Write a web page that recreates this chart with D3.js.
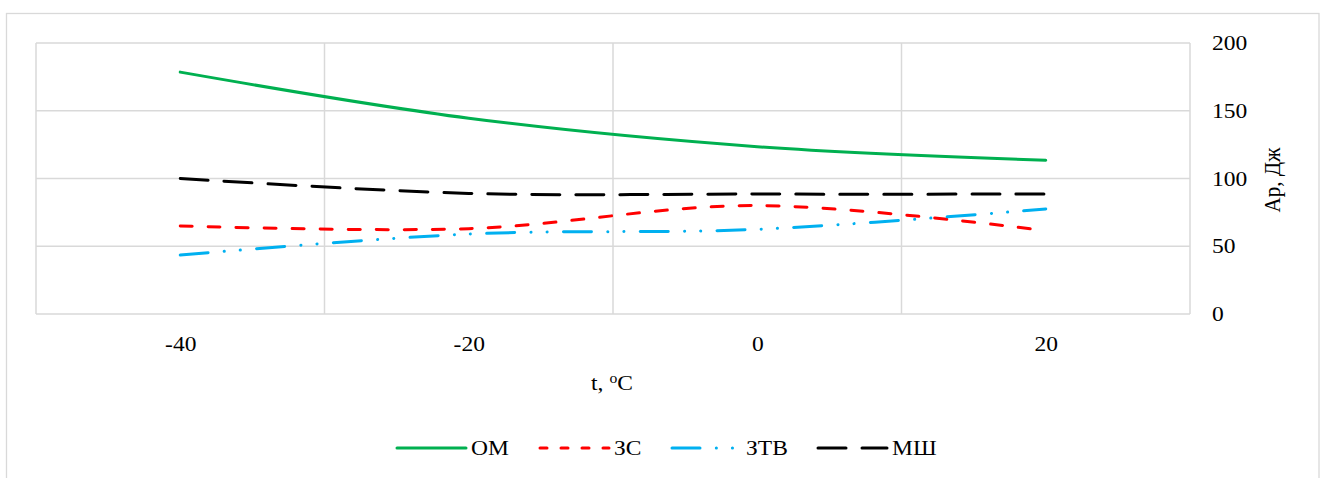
<!DOCTYPE html>
<html>
<head>
<meta charset="utf-8">
<script src="https://cdn.jsdelivr.net/npm/d3@7"></script>
<style>
  body { margin: 0; background: #fff; }
  svg text { font-family: "Liberation Serif", "Times New Roman", serif; fill: #000; }
</style>
</head>
<body>
<div id="chart"></div>
<script>
// Данные графика
const temps = [-40, -20, 0, 20];
const omValues = [178.5, 144.5, 123.5, 113.5];
const zsValues = [65, 63, 80, 61.5];
const ztvValues = [43.5, 59, 62.5, 77.5];
const mshValues = [100, 89, 88.5, 88.5];
const seriesNames = ['ОМ', 'ЗС', 'ЗТВ', 'МШ'];
const yTicks = [0, 50, 100, 150, 200];
const xTicks = [-40, -20, 0, 20];
const xGrid = [-50, -30, -10, 10, 30];

const W = 1328, H = 478;
const plot = { left: 36, right: 1190, top: 43, bottom: 314 };
const FONT = '"Liberation Serif", "Times New Roman", serif';
const SX = 1.12; // текст в оригинале немного растянут по горизонтали

const series = [
  { name: seriesNames[0], values: omValues, color: '#00B050', dash: null, legendDash: null },
  { name: seriesNames[1], values: zsValues, color: '#FF0000', dash: '12,16', legendDash: '7,14' },
  { name: seriesNames[2], values: ztvValues, color: '#00B0F0', dash: '28,16.3,0.1,16,0.1,16.3', legendDash: '28,16.3,0.1,16,0.1' },
  { name: seriesNames[3], values: mshValues, color: '#000000', dash: '28,16', legendDash: '28,16' },
];

const svg = d3.select('#chart').append('svg')
  .attr('width', W).attr('height', H);

// рамка области диаграммы
svg.append('rect')
  .attr('x', 6.5).attr('y', 13.5)
  .attr('width', 1312.5).attr('height', 500)
  .attr('fill', 'none').attr('stroke', '#D9D9D9').attr('stroke-width', 1.3);

const x = d3.scaleLinear().domain([-50, 30]).range([plot.left, plot.right]);
const y = d3.scaleLinear().domain([0, 200]).range([plot.bottom, plot.top]);

// сетка
svg.append('g')
  .selectAll('line')
  .data(yTicks)
  .join('line')
  .attr('x1', plot.left).attr('x2', plot.right)
  .attr('y1', d => y(d)).attr('y2', d => y(d))
  .attr('stroke', '#D9D9D9').attr('stroke-width', 1.5);
svg.append('g')
  .selectAll('line')
  .data(xGrid)
  .join('line')
  .attr('x1', d => x(d)).attr('x2', d => x(d))
  .attr('y1', plot.top).attr('y2', plot.bottom)
  .attr('stroke', '#D9D9D9').attr('stroke-width', 1.5);

// ось X (подписи)
const xAxis = svg.append('g')
  .attr('transform', `translate(0, ${plot.bottom})`)
  .call(d3.axisBottom(x).tickValues(xTicks).tickSize(0).tickPadding(22).tickFormat(d => String(d)));
xAxis.select('.domain').remove();
xAxis.selectAll('text')
  .style('font-family', FONT).style('font-size', '21px').attr('fill', '#000')
  .attr('transform', `scale(${SX},1)`);

// ось Y справа
const yPad = 22;
const yAxis = svg.append('g')
  .attr('transform', `translate(${plot.right}, 0)`)
  .call(d3.axisRight(y).tickValues(yTicks).tickSize(0).tickPadding(yPad));
yAxis.select('.domain').remove();
yAxis.selectAll('text')
  .style('font-family', FONT).style('font-size', '21px').attr('fill', '#000')
  .attr('x', yPad / SX)
  .attr('transform', `scale(${SX},1)`);

// линии
const line = d3.line()
  .x((d, i) => x(temps[i]))
  .y(d => y(d))
  .curve(d3.curveCardinal.tension(0));

svg.append('g')
  .selectAll('path')
  .data(series)
  .join('path')
  .attr('d', d => line(d.values))
  .attr('fill', 'none')
  .attr('stroke', d => d.color)
  .attr('stroke-width', 3)
  .attr('stroke-linecap', 'round')
  .attr('stroke-dasharray', d => d.dash);

// подписи осей
const xTitle = svg.append('g')
  .attr('transform', `translate(612, 390) scale(${SX},1)`)
  .append('text')
  .attr('text-anchor', 'middle')
  .style('font-family', FONT)
  .style('font-size', '21px');
xTitle.append('tspan').text('t, ');
xTitle.append('tspan').attr('dy', -7).style('font-size', '14px').text('o');
xTitle.append('tspan').attr('dy', 7).text('C');

svg.append('text')
  .attr('transform', `translate(1280, 180) rotate(-90) scale(1,${SX})`)
  .attr('text-anchor', 'middle')
  .style('font-family', FONT)
  .style('font-size', '21px')
  .text('Ар, Дж');

// легенда
const legendX = [397, 540, 672, 818];
const legend = svg.append('g')
  .selectAll('g')
  .data(series)
  .join('g')
  .attr('transform', (d, i) => `translate(${legendX[i]}, 448)`);
legend.append('line')
  .attr('x1', 0).attr('x2', 69)
  .attr('stroke', d => d.color)
  .attr('stroke-width', 3)
  .attr('stroke-linecap', 'round')
  .attr('stroke-dasharray', d => d.legendDash);
legend.append('g')
  .attr('transform', `translate(74, 7) scale(${SX},1)`)
  .append('text')
  .style('font-family', FONT)
  .style('font-size', '21px')
  .text(d => d.name);
</script>
</body>
</html>
